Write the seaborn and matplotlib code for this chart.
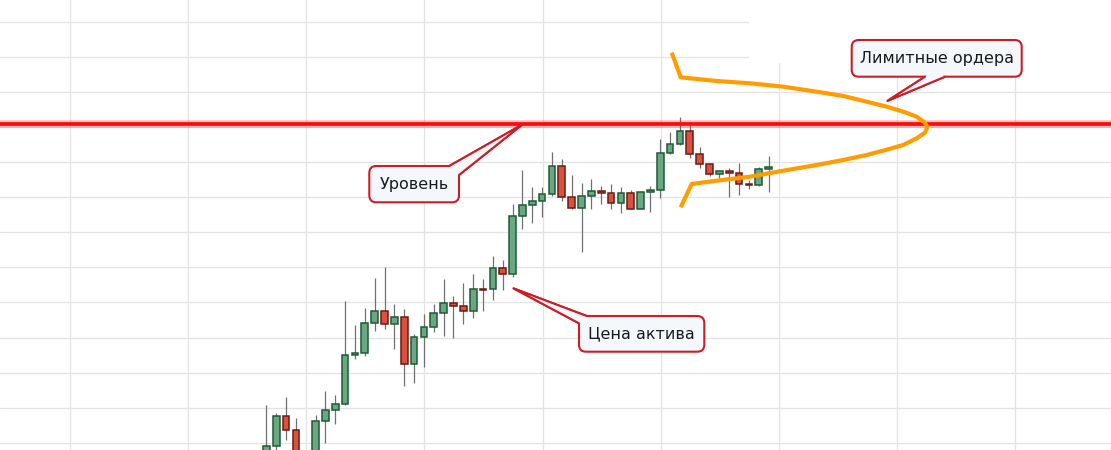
import numpy as np
import matplotlib
matplotlib.use("Agg")
import matplotlib.pyplot as plt
import seaborn as sns
from matplotlib.patches import FancyBboxPatch, Polygon, Rectangle
from matplotlib.lines import Line2D
from matplotlib.transforms import IdentityTransform

# ---------------- data (prices) ----------------
opens = [98.21, 99.46, 103.74, 101.74, 97.60, 98.10, 103.03, 104.60, 105.46, 112.46,
         112.74, 117.03, 118.74, 116.89, 117.89, 111.17, 115.03, 116.46, 118.46, 119.89,
         119.46, 118.74, 121.89, 121.86, 124.89, 124.00, 132.31, 133.89, 134.46, 135.46,
         139.46, 135.03, 133.46, 135.17, 135.89, 135.60, 134.17, 135.60, 133.31, 135.74,
         136.03, 141.31, 142.60, 144.46, 141.17, 139.74, 138.31, 138.74, 138.46, 136.79,
         136.74, 139.03]
highs = [105.36, 104.17, 106.50, 103.50, 98.60, 103.93, 107.36, 106.79, 120.21, 116.79,
         119.21, 123.50, 125.07, 119.79, 119.07, 115.50, 118.36, 119.79, 123.36, 120.93,
         122.79, 124.07, 123.36, 126.64, 126.07, 134.07, 138.93, 136.50, 136.50, 141.50,
         140.50, 138.21, 137.07, 137.64, 136.64, 136.93, 136.50, 136.07, 135.93, 136.64,
         143.36, 144.36, 146.50, 145.79, 142.21, 139.80, 138.80, 139.17, 139.89, 137.46,
         139.31, 140.89]
lows = [97.21, 99.00, 100.36, 97.21, 96.50, 97.50, 99.97, 102.69, 105.36, 111.97,
        112.40, 115.97, 116.26, 113.31, 108.11, 108.54, 110.83, 115.83, 115.26, 114.97,
        116.97, 117.83, 118.83, 120.36, 121.79, 123.69, 130.54, 131.40, 132.26, 135.17,
        134.54, 133.31, 127.26, 133.40, 134.03, 133.31, 132.74, 133.30, 133.30, 132.89,
        134.89, 141.17, 142.50, 140.60, 139.17, 138.03, 137.74, 135.03, 135.31, 136.17,
        136.70, 135.74]
closes = [99.50, 103.74, 101.74, 98.07, 98.10, 103.03, 104.60, 105.46, 112.46, 112.74,
          117.03, 118.74, 116.89, 117.89, 111.17, 115.03, 116.46, 118.46, 119.89, 119.46,
          118.74, 121.89, 121.84, 124.89, 124.03, 132.31, 133.89, 134.46, 135.46, 139.46,
          135.03, 133.46, 135.17, 135.89, 135.60, 134.17, 135.60, 133.31, 135.74, 136.03,
          141.31, 142.60, 144.46, 141.17, 139.74, 138.31, 138.74, 138.46, 136.89, 136.74,
          139.03, 139.31]

level_price = 145.43

# limit-order profile curve (candle index, price)
orders_x = [41.16, 42.07, 45.73, 49.11, 52.49, 55.88, 58.58, 60.95, 62.99, 64.67,
            66.03, 66.87, 67.11, 66.87, 66.03, 64.67, 62.64, 60.95, 58.58, 55.88,
            52.49, 49.11, 45.73, 43.19, 42.07]
orders_y = [155.69, 152.17, 151.64, 151.31, 150.83, 150.11, 149.50, 148.69, 147.97, 147.26,
            146.54, 145.69, 145.03, 144.26, 143.46, 142.50, 141.69, 141.07, 140.36, 139.64,
            138.83, 137.97, 137.40, 136.93, 133.60]

label_level = "Уровень"
label_price = "Цена актива"
label_orders = "Лимитные ордера"
tip_level = (26.0, 145.43)
tip_price = (25.08, 122.03)
tip_orders = (63.05, 148.79)

# ---------------- figure ----------------
sns.set_theme(style="whitegrid")
plt.rcParams['font.family'] = ['DejaVu Sans']

W, H = 1111, 450
fig = plt.figure(figsize=(W / 100, H / 100), dpi=100, facecolor='white')
ax = fig.add_axes([0, 0, 1, 1])
ax.set_facecolor('white')

o = np.array(opens); c = np.array(closes)
hi = np.array(highs); lo = np.array(lows)
idx = np.arange(len(o))
up = c >= o
bottom = np.minimum(o, c)
height = np.maximum(np.abs(c - o), 0.12)

ax.set_xlim(-27.04, 85.76)
ax.set_ylim(98.93, 163.21)
ax.set_xticks(np.arange(-19.95, 86, 12))
ax.set_yticks(np.arange(100, 165, 5))
ax.grid(True, color='#e3e3e3', lw=0.9)
ax.set_axisbelow(True)
ax.tick_params(labelbottom=False, labelleft=False, length=0)
for s in ax.spines.values():
    s.set_visible(False)

# blank block top-right
ax.add_patch(Rectangle((749, H - 62.7), 400, 80, transform=IdentityTransform(),
                       fc='white', ec='none', zorder=1))

ax.vlines(idx, lo, hi, color='#707070', lw=0.9, zorder=2)
ax.bar(idx[up], height[up], bottom=bottom[up], width=0.68, color='#6aa882',
       edgecolor='#1e5a36', linewidth=1.1, zorder=3)
ax.bar(idx[~up], height[~up], bottom=bottom[~up], width=0.68, color='#d9523f',
       edgecolor='#6e1a12', linewidth=1.1, zorder=3)

ax.axhline(level_price, color='#ff0000', lw=5.5, alpha=0.25, zorder=4)
ax.axhline(level_price, color='#ff0a0a', lw=2.7, zorder=4)

ax.plot(orders_x, orders_y, color='#ff9c00', lw=3.0, solid_joinstyle='round',
        solid_capstyle='butt', zorder=6)

EC = '#cc1d26'
FC = '#f4f7fc'
LW = 1.5


def P(x, y):
    return (x, H - y)


def callout(box, base1, base2, inner, tip_data, text, center):
    x0, y0, x1, y1 = box
    tip = tuple(ax.transData.transform(tip_data))
    t = IdentityTransform()
    ax.add_patch(Polygon([P(*base1), tip, P(*base2)], closed=True, fc=FC, ec=EC,
                         lw=LW, transform=t, zorder=10, clip_on=False))
    ax.add_patch(FancyBboxPatch(P(x0, y1), x1 - x0, y1 - y0,
                                boxstyle='round,pad=0,rounding_size=7',
                                fc=FC, ec=EC, lw=LW, transform=t, zorder=11, clip_on=False))
    ax.add_patch(Polygon([P(*base1), tip, P(*base2), P(*inner)], closed=True, fc=FC,
                         ec='none', transform=t, zorder=12, clip_on=False))
    b1 = P(*base1); b2 = P(*base2)
    ax.add_line(Line2D([b1[0], tip[0], b2[0]], [b1[1], tip[1], b2[1]], color=EC, lw=LW,
                       solid_joinstyle='round', transform=t, zorder=13, clip_on=False))
    fig.text(center[0] / W, 1 - center[1] / H, text, ha='center', va='center',
             fontsize=11.5, color='#1a1a1a', zorder=14)


callout((369.3, 166, 459, 202.3), (449.3, 166), (459, 175), (449, 175),
        tip_level, label_level, (414, 184.5))
callout((579, 316, 704.3, 351.7), (586.7, 316), (579, 323.3), (587, 323.5),
        tip_price, label_price, (641.7, 334))
callout((851.7, 40, 1021.7, 76.7), (925, 76.7), (945, 76.7), (935, 70),
        tip_orders, label_orders, (936.7, 58.5))

fig.savefig('out.png', dpi=100, facecolor='white')
